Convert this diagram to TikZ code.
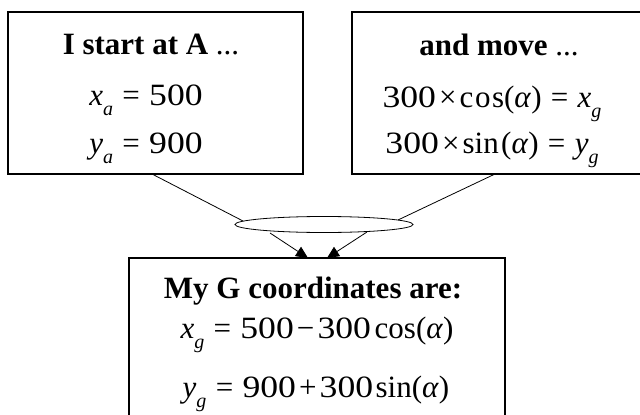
\documentclass[tikz,border=0pt]{standalone}
\usepackage{fontspec}
\setmainfont{Liberation Serif}
\usetikzlibrary{arrows.meta,shapes.geometric}
\newcommand\sbx[1]{\raisebox{-0.35em}{\fontsize{20}{20}\selectfont\itshape #1}}
\newcommand\eqsp{\hspace{0.3em}}
\newcommand\opsp{\hspace{0.1em}}
\newcommand\dg[1]{\scalebox{1.15}[1]{#1}}
\begin{document}
\begin{tikzpicture}[x=1pt,y=-1pt,
  box/.style={draw, line width=1.3pt, inner sep=0pt},
  txt/.style={anchor=base, inner sep=0pt, font=\fontsize{31}{31}\selectfont},
  conn/.style={line width=0.8pt},
  arr/.style={conn, -{Triangle[length=12pt,width=11pt]}}]
\useasboundingbox (0,0) rectangle (640,415);
% boxes
\node[box, minimum width=295, minimum height=162] (A) at (155.5,93) {};
\node[box, minimum width=298, minimum height=162] (B) at (501,93) {};
\node[box, minimum width=376, minimum height=190] (G) at (317,353) {};
\node[draw, ellipse, line width=0.8pt, minimum width=178, minimum height=16, inner sep=0pt] (E) at (324,224.5) {};
% texts
\node[txt] (At) at (151,54) {\textbf{I start at A} ...};
\node[txt] (Ax) at (146,105) {\textit{x}\sbx{a}\eqsp=\eqsp\dg{500}};
\node[txt] (Ay) at (146,153) {\textit{y}\sbx{a}\eqsp=\eqsp\dg{900}};
\node[txt] (Bt) at (499,55) {\textbf{and move} ...};
\node[txt] (Bx) at (492,107) {\dg{300}\opsp×\opsp c\hspace{0.05em}o\hspace{0.05em}s(\textit{α})\eqsp=\eqsp\textit{x}\sbx{g}};
\node[txt] (By) at (492,153) {\dg{300}\opsp×\opsp sin\hspace{0.08em}(\textit{α})\eqsp=\eqsp\textit{y}\sbx{g}};
\node[txt] (Gt) at (313,298) {\textbf{My G coordinates are:}};
\node[txt] (Gx) at (317,338) {\textit{x}\sbx{g}\eqsp=\eqsp\dg{500}\opsp−\opsp\dg{300}\hspace{0.12em}cos(\textit{α})};
\node[txt] (Gy) at (316,397) {\textit{y}\sbx{g}\eqsp=\eqsp\dg{900}\opsp+\opsp\dg{300}\hspace{0.08em}sin(\textit{α})};
% connector points
\coordinate (a1) at (152,174); \coordinate (e1) at (243,221);
\coordinate (b1) at (495,174); \coordinate (e2) at (398,220);
\coordinate (e3) at (270,233); \coordinate (g1) at (308,258);
\coordinate (e4) at (367,232); \coordinate (g2) at (327,258);
\draw[conn] (a1) -- (e1);
\draw[conn] (b1) -- (e2);
\draw[arr] (e3) -- (g1);
\draw[arr] (e4) -- (g2);
\end{tikzpicture}
\end{document}
